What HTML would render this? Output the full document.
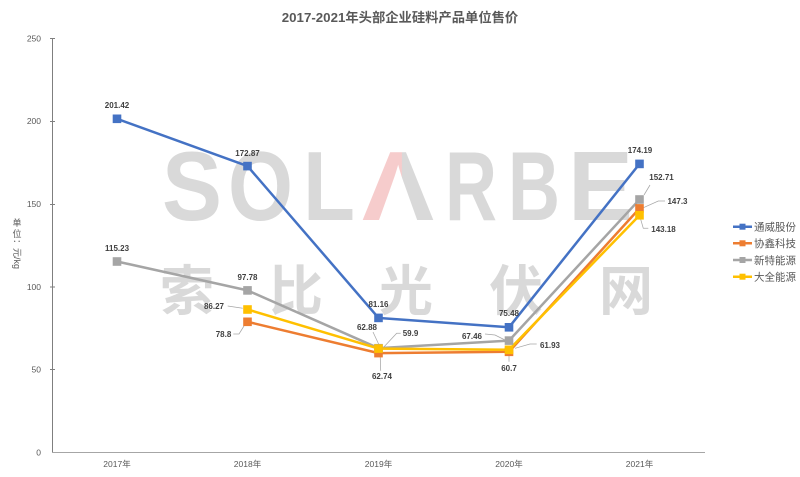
<!DOCTYPE html>
<html><head><meta charset="utf-8"><style>
html,body{margin:0;padding:0;background:#fff;}
#wrap{position:relative;width:800px;height:477px;overflow:hidden;background:#fff;}
svg{position:absolute;left:0;top:0;}
</style></head><body><div id="wrap">
<svg width="800" height="477" viewBox="0 0 800 477" xmlns="http://www.w3.org/2000/svg">
<defs>
<linearGradient id="lam" x1="0" x2="1" y1="0" y2="0">
<stop offset="0" stop-color="#f6cccc"/><stop offset="0.55" stop-color="#f6cccc"/><stop offset="0.56" stop-color="#d9d9d9"/><stop offset="1" stop-color="#d9d9d9"/>
</linearGradient>
</defs>
<!-- watermark -->
<g font-family="Liberation Sans, sans-serif" font-weight="bold" font-size="98" fill="#d9d9d9">
<text x="162" y="220" textLength="60" lengthAdjust="spacingAndGlyphs">S</text>
<text x="228" y="220" textLength="65" lengthAdjust="spacingAndGlyphs">O</text>
<text x="303" y="220" textLength="52" lengthAdjust="spacingAndGlyphs">L</text>
<text x="362" y="220" textLength="72" lengthAdjust="spacingAndGlyphs" fill="url(#lam)">Λ</text>
<text x="445" y="220" textLength="52" lengthAdjust="spacingAndGlyphs">R</text>
<text x="508" y="220" textLength="52" lengthAdjust="spacingAndGlyphs">B</text>
<text x="568" y="220" textLength="65" lengthAdjust="spacingAndGlyphs">E</text>
</g>
<g font-family="Noto Sans CJK SC, sans-serif" font-weight="bold" font-size="54" fill="#d9d9d9" text-anchor="middle">
<text x="187" y="310">索</text>
<text x="296" y="310">比</text>
<text x="406" y="310">光</text>
<text x="516" y="310">伏</text>
<text x="626" y="310">网</text>
</g>
<!-- title -->
<text x="400" y="22" text-anchor="middle" font-family="Liberation Sans, Noto Sans CJK SC, sans-serif" font-weight="bold" font-size="13.3" fill="#595959">2017-2021年头部企业硅料产品单位售价</text>
<!-- y axis title -->
<g font-family="Liberation Sans, Noto Sans CJK SC, sans-serif" font-size="9" fill="#595959">
<text x="17" y="226" text-anchor="middle">单</text>
<text x="17" y="237" text-anchor="middle">位</text>
<text transform="translate(14,239) rotate(90)">：元/kg</text>
</g>
<!-- axes -->
<g stroke="#7f7f7f" stroke-width="1" fill="none">
<line x1="52.5" y1="38" x2="52.5" y2="452.5"/>
<line x1="52" y1="452.5" x2="705" y2="452.5" stroke="#a6a6a6"/>
<line x1="50" y1="38.5" x2="55" y2="38.5"/>
<line x1="50" y1="121.5" x2="55" y2="121.5"/>
<line x1="50" y1="204.5" x2="55" y2="204.5"/>
<line x1="50" y1="287" x2="55" y2="287"/>
<line x1="50" y1="369.5" x2="55" y2="369.5"/>
</g>
<g font-family="Liberation Sans, sans-serif" font-size="8.5" fill="#595959" text-anchor="end">
<text x="41" y="41.5">250</text>
<text x="41" y="124">200</text>
<text x="41" y="207">150</text>
<text x="41" y="290">100</text>
<text x="41" y="372.5">50</text>
<text x="41" y="455.5">0</text>
</g>
<g font-family="Liberation Sans, Noto Sans CJK SC, sans-serif" font-size="8.5" fill="#595959" text-anchor="middle">
<text x="117" y="467">2017年</text>
<text x="247.5" y="467">2018年</text>
<text x="378.5" y="467">2019年</text>
<text x="509" y="467">2020年</text>
<text x="639.5" y="467">2021年</text>
</g>
<!-- leader lines -->
<g stroke="#a6a6a6" stroke-width="0.75" fill="none">
<polyline points="227.7,306 242.7,308.3"/>
<polyline points="233.3,334 239,334 244,326"/>
<polyline points="373,332 380,347"/>
<polyline points="400.7,333.3 396.7,333.3 382.7,348.3"/>
<polyline points="380,349 380.7,370.7"/>
<polyline points="485,334 495,335 505,340"/>
<polyline points="536.7,344 530,344 515,348.3"/>
<polyline points="509,353.3 509,361.7"/>
<polyline points="650,185 644,195"/>
<polyline points="665,201 658.3,201 642,208.3"/>
<polyline points="648.3,228.3 643.3,228.3 640,217"/>
</g>
<!-- series -->
<g stroke-width="2.5" fill="none" stroke-linejoin="round">
<polyline stroke="#4472C4" points="117,118.8 247.5,166.1 378.5,317.9 509,327.3 639.5,163.9"/>
<polyline stroke="#ED7D31" points="247.5,321.8 378.5,353.1 509,351.8 639.5,208.4"/>
<polyline stroke="#A5A5A5" points="117,261.5 247.5,290.4 378.5,348.2 509,340.6 639.5,199.5"/>
<polyline stroke="#FFC000" points="247.5,309.5 378.5,348.6 509,349.8 639.5,215.3"/>
</g>
<g>
<g fill="#4472C4">
<rect x="112.7" y="114.5" width="8.6" height="8.6"/>
<rect x="243.2" y="161.8" width="8.6" height="8.6"/>
<rect x="374.2" y="313.6" width="8.6" height="8.6"/>
<rect x="504.7" y="323" width="8.6" height="8.6"/>
<rect x="635.2" y="159.6" width="8.6" height="8.6"/>
</g>
<g fill="#ED7D31">
<rect x="243.2" y="317.5" width="8.6" height="8.6"/>
<rect x="374.2" y="348.8" width="8.6" height="8.6"/>
<rect x="504.7" y="347.5" width="8.6" height="8.6"/>
<rect x="635.2" y="204.1" width="8.6" height="8.6"/>
</g>
<g fill="#A5A5A5">
<rect x="112.7" y="257.2" width="8.6" height="8.6"/>
<rect x="243.2" y="286.1" width="8.6" height="8.6"/>
<rect x="374.2" y="343.9" width="8.6" height="8.6"/>
<rect x="504.7" y="336.3" width="8.6" height="8.6"/>
<rect x="635.2" y="195.2" width="8.6" height="8.6"/>
</g>
<g fill="#FFC000">
<rect x="243.2" y="305.2" width="8.6" height="8.6"/>
<rect x="374.2" y="344.3" width="8.6" height="8.6"/>
<rect x="504.7" y="345.5" width="8.6" height="8.6"/>
<rect x="635.2" y="211" width="8.6" height="8.6"/>
</g>
</g>
<!-- data labels -->
<g font-family="Liberation Sans, sans-serif" font-weight="bold" font-size="8" fill="#404040" text-anchor="middle">
<text x="117" y="108">201.42</text>
<text x="247.5" y="156">172.87</text>
<text x="117" y="251">115.23</text>
<text x="247.5" y="280">97.78</text>
<text x="214" y="309">86.27</text>
<text x="223.5" y="337">78.8</text>
<text x="378.5" y="307">81.16</text>
<text x="367" y="330">62.88</text>
<text x="410.5" y="336">59.9</text>
<text x="382" y="379">62.74</text>
<text x="509" y="316">75.48</text>
<text x="472" y="339">67.46</text>
<text x="550" y="348">61.93</text>
<text x="509" y="371">60.7</text>
<text x="640" y="153">174.19</text>
<text x="661.5" y="180">152.71</text>
<text x="677.5" y="204">147.3</text>
<text x="663.5" y="232">143.18</text>
</g>
<!-- legend -->
<g stroke-width="2.5">
<line x1="733" y1="226.7" x2="752" y2="226.7" stroke="#4472C4"/>
<line x1="733" y1="243.3" x2="752" y2="243.3" stroke="#ED7D31"/>
<line x1="733" y1="260" x2="752" y2="260" stroke="#A5A5A5"/>
<line x1="733" y1="276.7" x2="752" y2="276.7" stroke="#FFC000"/>
</g>
<rect x="739.5" y="223.7" width="6" height="6" fill="#4472C4"/>
<rect x="739.5" y="240.3" width="6" height="6" fill="#ED7D31"/>
<rect x="739.5" y="257" width="6" height="6" fill="#A5A5A5"/>
<rect x="739.5" y="273.7" width="6" height="6" fill="#FFC000"/>
<g font-family="Liberation Sans, Noto Sans CJK SC, sans-serif" font-size="10.5" fill="#595959">
<text x="754" y="230.5">通威股份</text>
<text x="754" y="247">协鑫科技</text>
<text x="754" y="263.8">新特能源</text>
<text x="754" y="280.5">大全能源</text>
</g>
</svg>
</div></body></html>
